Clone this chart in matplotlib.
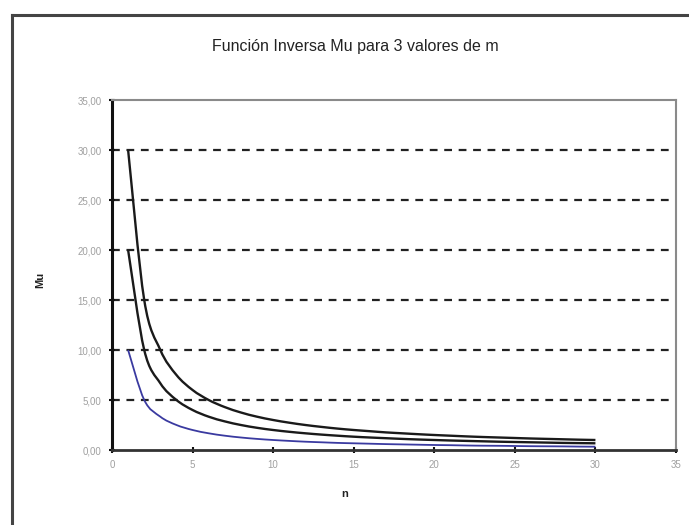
import numpy as np
import matplotlib.pyplot as plt
from matplotlib.lines import Line2D
from matplotlib.path import Path
from matplotlib.patches import PathPatch
from matplotlib.ticker import FuncFormatter

# values (n = 1..30)
n = list(range(1, 31))
mu_m30 = [30.00, 15.00, 10.00, 7.50, 6.00, 5.00, 4.29, 3.75, 3.33, 3.00,
          2.73, 2.50, 2.31, 2.14, 2.00, 1.88, 1.76, 1.67, 1.58, 1.50,
          1.43, 1.36, 1.30, 1.25, 1.20, 1.15, 1.11, 1.07, 1.03, 1.00]
mu_m20 = [20.00, 10.00, 6.67, 5.00, 4.00, 3.33, 2.86, 2.50, 2.22, 2.00,
          1.82, 1.67, 1.54, 1.43, 1.33, 1.25, 1.18, 1.11, 1.05, 1.00,
          0.95, 0.91, 0.87, 0.83, 0.80, 0.77, 0.74, 0.71, 0.69, 0.67]
mu_m10 = [10.00, 5.00, 3.33, 2.50, 2.00, 1.67, 1.43, 1.25, 1.11, 1.00,
          0.91, 0.83, 0.77, 0.71, 0.67, 0.63, 0.59, 0.56, 0.53, 0.50,
          0.48, 0.45, 0.43, 0.42, 0.40, 0.38, 0.37, 0.36, 0.34, 0.33]
yticks = [0, 5, 10, 15, 20, 25, 30, 35]
xticks = [0, 5, 10, 15, 20, 25, 30, 35]


def smooth_path(xs, ys, t=1/6):
    # Excel-style smoothed line: Bezier segments through the data points
    p = np.column_stack([xs, ys]).astype(float)
    verts = [p[0]]
    codes = [Path.MOVETO]
    for i in range(len(p) - 1):
        p0 = p[max(i - 1, 0)]
        p3 = p[min(i + 2, len(p) - 1)]
        c1 = p[i] + (p[i + 1] - p0) * t
        c2 = p[i + 1] - (p3 - p[i]) * t
        verts += [c1, c2, p[i + 1]]
        codes += [Path.CURVE4] * 3
    return Path(verts, codes)


plt.rcParams['font.family'] = ['Liberation Sans', 'DejaVu Sans']

fig = plt.figure(figsize=(6.89, 5.25), dpi=100)
ax = fig.add_axes([112/689, 1 - 450/525, (676 - 112)/689, (450 - 100)/525])

# outer chart frame (cropped at right and bottom)
fx, fy = 12/689, 1 - 15/525
fig.add_artist(Line2D([fx, fx], [0, fy], color='#444444', lw=2.2))
fig.add_artist(Line2D([fx, 1], [fy, fy], color='#444444', lw=2.2))

for yv in yticks[1:-1]:
    ax.axhline(yv, color='#222222', lw=1.6, ls=(0, (3.5, 3.0)), zorder=1)

for ys, col, lw in [(mu_m30, '#1a1a1a', 1.7), (mu_m20, '#1a1a1a', 1.7),
                    (mu_m10, '#3a3aa0', 1.3)]:
    ax.add_patch(PathPatch(smooth_path(n, ys), fill=False, edgecolor=col,
                           lw=lw, zorder=3))

ax.set_xlim(0, 35)
ax.set_ylim(0, 35)
ax.set_xticks(xticks)
ax.set_yticks(yticks)
ax.yaxis.set_major_formatter(FuncFormatter(lambda v, p: f"{v:.2f}".replace('.', ',')))
ax.tick_params(axis='both', direction='inout', length=5, width=1.5,
               labelsize=7, labelcolor='#a0a0a0', color='#111111', pad=5)

ax.spines['left'].set_color('#111111')
ax.spines['left'].set_linewidth(2.2)
ax.spines['bottom'].set_color('#333333')
ax.spines['bottom'].set_linewidth(2.0)
for s in ('top', 'right'):
    ax.spines[s].set_color('#8a8a8a')
    ax.spines[s].set_linewidth(1.5)

fig.text(355/689, 1 - 47/525, 'Función Inversa Mu para 3 valores de m',
         ha='center', va='center', fontsize=11.5, color='#222222')
fig.text(40/689, 1 - 280/525, 'Mu', rotation=90, ha='center', va='center',
         fontsize=8, fontweight='bold', color='#222222')
fig.text(345/689, 1 - 494/525, 'n', ha='center', va='center',
         fontsize=8, fontweight='bold', color='#222222')

fig.savefig('out.png', dpi=100)
